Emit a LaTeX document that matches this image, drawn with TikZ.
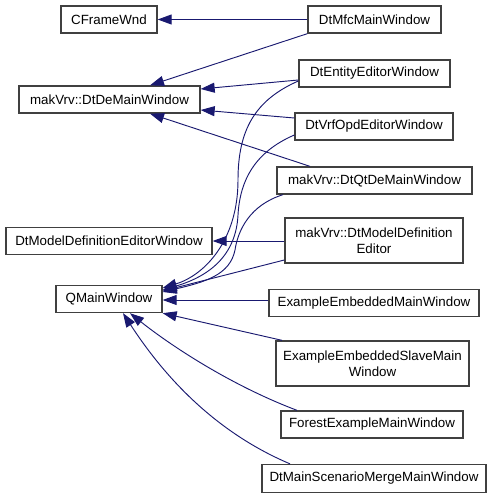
\documentclass[tikz,border=0pt]{standalone}
\usepackage{fontspec}
\setmainfont{Liberation Sans}
\usepackage{tikz}
\usetikzlibrary{arrows.meta, positioning, calc}
\usepackage{xcolor}
\definecolor{edgeblue}{RGB}{25, 25, 112}
\definecolor{boxline}{RGB}{64, 64, 64}

\begin{document}
\begin{tikzpicture}[
  x=0.75pt, y=-0.75pt,
  classbox/.style = {rectangle, draw=boxline, line width=1pt, fill=white,
                     minimum height=20.25pt, inner sep=2pt,
                     align=center, font=\fontsize{10pt}{12pt}\selectfont},
  twoline/.style = {minimum height=33.75pt},
  inh/.style = {-{Triangle[length=10.5pt, width=7.5pt]}, line width=0.7pt, edgeblue}
]
\useasboundingbox (0,0) rectangle (493,499);
% base classes
\node[classbox, minimum width=72pt]     (cframe) at (109,19.5)  {CFrameWnd};
\node[classbox, minimum width=135.75pt] (dtde)   at (109.5,99.5) {makVrv::DtDeMainWindow};
\node[classbox, minimum width=154.5pt]  (mdew)   at (109,241)   {DtModelDefinitionEditorWindow};
\node[classbox, minimum width=79.5pt]   (qmain)  at (109,299)   {QMainWindow};
% derived classes
\node[classbox, minimum width=99.75pt]  (mfc)    at (374.5,19.5)  {DtMfcMainWindow};
\node[classbox, minimum width=113.25pt] (entity) at (374.5,73.5)  {DtEntityEditorWindow};
\node[classbox, minimum width=118.5pt]  (vrf)    at (374,126.5)   {DtVrfOpdEditorWindow};
\node[classbox, minimum width=146.25pt] (qtde)   at (374.5,180.5) {makVrv::DtQtDeMainWindow};
\node[classbox, twoline, minimum width=133.5pt] (mde) at (374,240.5) {makVrv::DtModelDefinition\\Editor};
\node[classbox, minimum width=157.5pt]  (ex)     at (374,303)     {ExampleEmbeddedMainWindow};
\node[classbox, twoline, minimum width=144.75pt] (slave) at (372.5,363.5) {ExampleEmbeddedSlaveMain\\Window};
\node[classbox, minimum width=136.5pt]  (forest) at (372,424.5)   {ForestExampleMainWindow};
\node[classbox, minimum width=168pt, minimum height=21pt] (merge) at (374,478.5) {DtMainScenarioMergeMainWindow};
% inheritance edges
\draw[inh] (mfc.west) -- (cframe.east);
\draw[inh] (mfc.south west) -- (150,0 |- dtde.north);
\draw[inh] (entity.west |- 0,80) -- (dtde.east |- 0,89);
\draw[inh] (vrf.west |- 0,118) -- (dtde.east |- 0,110);
\draw[inh] (310,0 |- qtde.north) -- (150,0 |- dtde.south);
\draw[inh] (entity.west |- 0,81) .. controls (255,100) and (238,130) .. (238,180)
           .. controls (238,240) and (205,275) .. (qmain.east |- 0,288);
\draw[inh] (vrf.west |- 0,135) .. controls (255,152) and (240,180) .. (238,215)
           .. controls (236,255) and (210,276) .. (qmain.east |- 0,290);
\draw[inh] (283,0 |- qtde.south) .. controls (250,205) and (238,230) .. (235,250)
           .. controls (230,275) and (205,282) .. (qmain.east |- 0,292);
\draw[inh] (mde.west |- 0,241) -- (mdew.east);
\draw[inh] (mde.west |- 0,260) -- (qmain.east |- 0,291);
\draw[inh] (ex.west |- 0,300) -- (qmain.east |- 0,300);
\draw[inh] (282,0 |- slave.north) -- (qmain.south east);
\draw[inh] (297,0 |- forest.north) .. controls (230,385) and (170,345) .. (130,0 |- qmain.south);
\draw[inh] (290,0 |- merge.north) .. controls (210,430) and (160,370) .. (123,0 |- qmain.south);
\end{tikzpicture}
\end{document}
